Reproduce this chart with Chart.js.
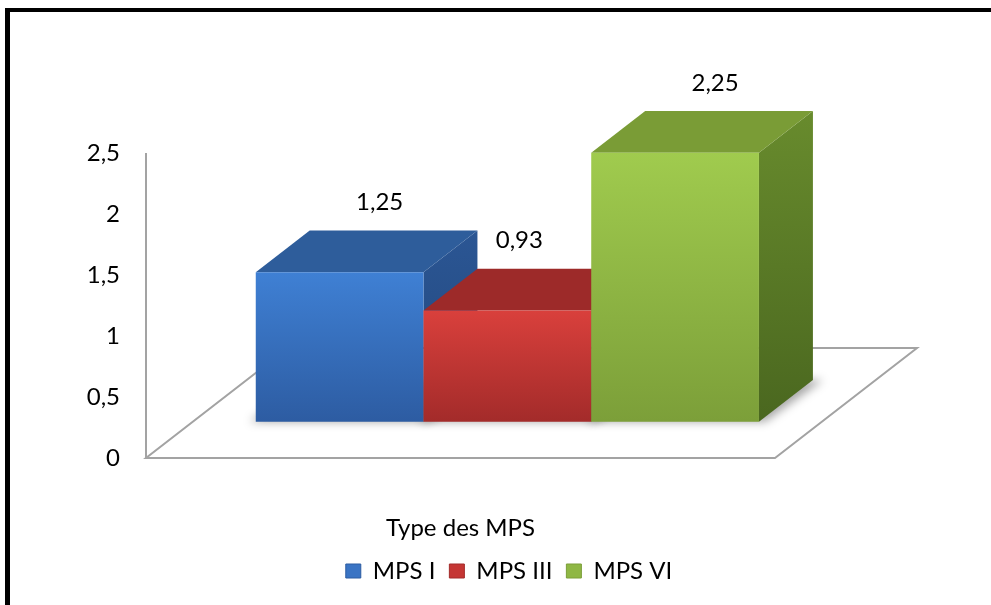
<!DOCTYPE html>
<html>
<head>
<meta charset="utf-8">
<script src="https://cdn.jsdelivr.net/npm/chart.js@4.4.1/dist/chart.umd.min.js"></script>
<style>
  html, body { margin: 0; padding: 0; background: #fff; overflow: hidden; }
  #frame { position: absolute; left: 5px; top: 8px; width: 900px; height: 593px; border-left: 5px solid #000; border-top: 4px solid #000; }
  #frame::after { content: ''; position: absolute; left: 900px; top: -4px; width: 100px; height: 4px; background: #000; }
  #wrap { position: absolute; left: 0; top: 0; width: 991px; height: 605px; }
</style>
</head>
<body>
<div id="frame"></div>
<div id="wrap"><canvas id="chart"></canvas></div>
<script>
const categories = ['Type des MPS'];
const seriesNames = ['MPS I', 'MPS III', 'MPS VI'];
const mpsI = [1.25];
const mpsIII = [0.93];
const mpsVI = [2.25];
const yMin = 0;
const yMax = 2.5;
const yStep = 0.5;

// face colours for each box: front gradient, top, side gradient; labelDx nudges the value label
const faces = [
  { front: ['#3f80d4', '#2d5ca2'], top: '#2e5d9b', side: ['#2b5694', '#22477c'], legend: '#3a74c4', labelDx: 0 },
  { front: ['#d9403c', '#a32b2a'], top: '#9d2a29', side: ['#8c2525', '#701d1d'], legend: '#c53634', labelDx: -28 },
  { front: ['#a0cb4e', '#7c9f39'], top: '#7a9c36', side: ['#688b2d', '#4a671f'], legend: '#8fb744', labelDx: 0 }
];

// floor depth vector and where the boxes sit inside it
const DEPTH = { x: 142, y: -110 };
const BAR_FRONT = 0.33;
const BAR_BACK = 0.71;
const BAR_PLANE = 0.98;

const fr = v => v.toLocaleString('fr-FR');

const box3d = {
  id: 'box3d',
  beforeDatasetsDraw(chart) {
    const { ctx, chartArea: a, scales: { y } } = chart;
    const y0 = y.getPixelForValue(0);
    const yTop = y.getPixelForValue(y.max);
    ctx.save();
    ctx.strokeStyle = '#a3a3a3';
    ctx.lineWidth = 2;
    ctx.beginPath();
    ctx.moveTo(a.left, yTop);
    ctx.lineTo(a.left, y0);
    ctx.moveTo(a.left, y0);
    ctx.lineTo(a.right, y0);
    ctx.lineTo(a.right + DEPTH.x, y0 + DEPTH.y);
    ctx.lineTo(a.left + DEPTH.x, y0 + DEPTH.y);
    ctx.closePath();
    ctx.stroke();
    ctx.restore();
  },
  beforeDatasetDraw() {
    return false;
  },
  afterDatasetsDraw(chart) {
    const { ctx } = chart;
    const boxes = [];
    chart.data.datasets.forEach((ds, i) => {
      const meta = chart.getDatasetMeta(i);
      if (meta.hidden) return;
      meta.data.forEach((bar, j) => {
        const p = bar.getProps(['x', 'y', 'base', 'width'], true);
        boxes.push({ i, value: ds.data[j], ...p });
      });
    });

    const P = (b, px, py, f) => [px + f * DEPTH.x, b.base + (py - b.base) * BAR_PLANE + f * DEPTH.y];
    const poly = pts => {
      ctx.beginPath();
      pts.forEach((pt, k) => k ? ctx.lineTo(pt[0], pt[1]) : ctx.moveTo(pt[0], pt[1]));
      ctx.closePath();
    };

    // soft shadow under the boxes
    ctx.save();
    ctx.filter = 'blur(5px)';
    ctx.fillStyle = 'rgba(0,0,0,0.35)';
    boxes.forEach(b => {
      const l = b.x - b.width / 2, r = b.x + b.width / 2;
      poly([P(b, l - 6, b.base, BAR_FRONT), P(b, r + 6, b.base, BAR_FRONT), P(b, r + 10, b.base, BAR_BACK), P(b, l, b.base, BAR_BACK)]);
      ctx.fill();
    });
    ctx.restore();

    boxes.forEach(b => {
      const c = faces[b.i];
      const l = b.x - b.width / 2, r = b.x + b.width / 2;
      const fTL = P(b, l, b.y, BAR_FRONT), fTR = P(b, r, b.y, BAR_FRONT);
      const fBR = P(b, r, b.base, BAR_FRONT), fBL = P(b, l, b.base, BAR_FRONT);
      const bTL = P(b, l, b.y, BAR_BACK), bTR = P(b, r, b.y, BAR_BACK), bBR = P(b, r, b.base, BAR_BACK);
      ctx.save();

      let g = ctx.createLinearGradient(0, bTR[1], 0, fBR[1]);
      g.addColorStop(0, c.side[0]);
      g.addColorStop(1, c.side[1]);
      ctx.fillStyle = g;
      poly([fTR, bTR, bBR, fBR]);
      ctx.fill();

      ctx.fillStyle = c.top;
      poly([fTL, fTR, bTR, bTL]);
      ctx.fill();

      g = ctx.createLinearGradient(0, fTL[1], 0, fBL[1]);
      g.addColorStop(0, c.front[0]);
      g.addColorStop(1, c.front[1]);
      ctx.fillStyle = g;
      poly([fTL, fTR, fBR, fBL]);
      ctx.fill();
      ctx.restore();
    });

    // value labels above each box
    ctx.save();
    ctx.font = '24px Lato';
    ctx.fillStyle = '#000';
    ctx.textAlign = 'center';
    ctx.textBaseline = 'middle';
    boxes.forEach(b => {
      const top = P(b, b.x, b.y, BAR_BACK);
      const cx = b.x + BAR_FRONT * DEPTH.x + 40 + faces[b.i].labelDx;
      ctx.fillText(fr(b.value), cx, top[1] - 28);
    });
    ctx.restore();
  }
};

const seriesData = [mpsI, mpsIII, mpsVI];

Chart.defaults.font.family = 'Lato';
Chart.defaults.color = '#000';

new Chart(document.getElementById('chart'), {
  type: 'bar',
  data: {
    labels: categories,
    datasets: seriesNames.map((name, i) => ({
      label: name,
      data: seriesData[i],
      backgroundColor: faces[i].legend,
      borderColor: faces[i].front[1],
      borderWidth: 1,
      categoryPercentage: 0.8,
      barPercentage: 1
    }))
  },
  options: {
    responsive: true,
    maintainAspectRatio: false,
    animation: false,
    locale: 'fr-FR',
    layout: { padding: { left: 27, right: 0, top: 153, bottom: 12 } },
    plugins: {
      legend: {
        position: 'bottom',
        labels: { boxWidth: 15, boxHeight: 14, padding: 14, font: { size: 24 }, color: '#000' }
      },
      tooltip: { enabled: false }
    },
    scales: {
      x: {
        grid: { display: false, drawTicks: false },
        border: { display: false },
        ticks: { padding: 56, font: { size: 24 }, color: '#000' },
        afterFit(s) { s.height = 87; }
      },
      y: {
        min: yMin,
        max: yMax,
        grid: { display: false, drawTicks: false },
        border: { display: false },
        ticks: { stepSize: yStep, padding: 26, font: { size: 24 }, color: '#000', callback: v => fr(v) },
        afterFit(s) { s.width = 119; }
      },
      depth: {
        type: 'linear',
        position: 'right',
        grid: { display: false, drawTicks: false },
        border: { display: false },
        ticks: { display: false },
        afterFit(s) { s.width = 216; }
      }
    }
  },
  plugins: [box3d]
});
</script>
</body>
</html>
